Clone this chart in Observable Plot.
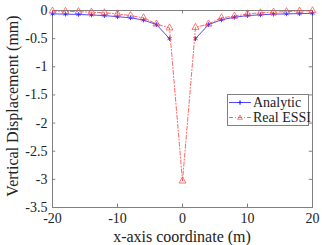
<!DOCTYPE html>
<html><head><meta charset="utf-8">
<script src="https://cdn.jsdelivr.net/npm/d3@7"></script>
<script src="https://cdn.jsdelivr.net/npm/@observablehq/plot@0.6"></script>
<style>
html body, html body *, #wrap svg text, #wrap svg tspan { font-family: 'Liberation Serif', 'Times New Roman', Tinos, serif !important; }
body{margin:0;background:#fff;}
#wrap{position:relative;width:322px;height:245px;}
#legend{position:absolute;left:227px;top:94px;width:80px;height:30px;border:1px solid #808080;background:#fff;color:#222;white-space:nowrap;z-index:2;}
#legend .row{position:absolute;left:0;height:15px;display:flex;align-items:center;font-size:14px;}
.lbl{position:absolute;font-size:16px;color:#222;white-space:nowrap;z-index:2;line-height:1;}
</style></head>
<body><div id="wrap">
<div id="legend">
 <div class="row" style="top:0px"><svg id="s0" width="24" height="15" style="margin-left:1px"></svg><span>Analytic</span></div>
 <div class="row" style="top:15px"><svg id="s1" width="24" height="15" style="margin-left:1px"></svg><span>Real ESSI</span></div>
</div>
<div class="lbl" id="xl" style="left:0;width:364px;text-align:center;top:229px;">x-axis coordinate (m)</div>
<div class="lbl" id="yl" style="left:13px;top:106px;transform:translate(-50%,-50%) rotate(-90deg);">Vertical Displacement (mm)</div>
</div>
<script>
const xs = [-20,-18,-16,-14,-12,-10,-8,-6,-4,-2,0,2,4,6,8,10,12,14,16,18,20];
const analytic = [-0.06,-0.065,-0.07,-0.08,-0.09,-0.11,-0.13,-0.17,-0.25,-0.5,null,-0.5,-0.25,-0.165,-0.12,-0.09,-0.077,-0.065,-0.06,-0.055,-0.05];
const realEssi = [-0.01,-0.015,-0.02,-0.03,-0.04,-0.06,-0.09,-0.13,-0.24,-0.31,-3.03,-0.3,-0.24,-0.13,-0.1,-0.06,-0.04,-0.03,-0.02,-0.01,-0.005];
const xTicks = [-20,-10,0,10,20];
const yTicks = [0,-0.5,-1,-1.5,-2,-2.5,-3,-3.5];
const seriesNames = ["Analytic","Real ESSI"];
const colors = ["#2020ff","#ff4040"];

const A = xs.map((x,i)=>({x, y: analytic[i]}));
const R = xs.map((x,i)=>({x, y: realEssi[i]}));
const grey = "#808080";
const FF = "Liberation Serif";

const chart = Plot.plot({
  width: 322, height: 245,
  marginLeft: 52, marginRight: 10, marginTop: 10, marginBottom: 38,
  style: {fontFamily: FF, fontSize: "14px", color: "#222", background: "#fff"},
  x: {domain: [-20, 20], ticks: xTicks},
  y: {domain: [-3.5, 0], ticks: yTicks},
  marks: [
    Plot.frame({stroke: grey}),
    Plot.ruleX(xTicks, {y1: -3.5, y2: -3.44, stroke: grey}),
    Plot.ruleX(xTicks, {y1: 0, y2: -0.06, stroke: grey}),
    Plot.ruleY(yTicks, {x1: -20, x2: -19.5, stroke: grey}),
    Plot.ruleY(yTicks, {x1: 20, x2: 19.5, stroke: grey}),
    Plot.axisX({ticks: xTicks, tickSize: 0, tickPadding: 6, label: null, tickFormat: d => String(d), fontSize: 14, fontFamily: FF}),
    Plot.axisY({ticks: yTicks, tickSize: 0, tickPadding: 5, label: null, tickFormat: d => String(d), fontSize: 14, fontFamily: FF}),
    Plot.line(A, {x: "x", y: "y", stroke: colors[0], strokeWidth: 0.8}),
    Plot.dot(A.filter(d => d.y != null), {x: "x", y: "y", symbol: "asterisk", r: 2.2, stroke: colors[0], strokeWidth: 0.8}),
    Plot.line(R, {x: "x", y: "y", stroke: colors[1], strokeWidth: 0.8, strokeDasharray: "4,2,1,2"}),
    Plot.dot(R, {x: "x", y: "y", symbol: "triangle", r: 2.6, stroke: colors[1], strokeWidth: 0.7, fill: "none"})
  ]
});
chart.style.position = "absolute"; chart.style.left = "0"; chart.style.top = "0";
const wrap = document.getElementById("wrap");
wrap.insertBefore(chart, wrap.firstChild);

seriesNames.forEach((name, i) => {
  const dash = i === 1 ? 'stroke-dasharray="4,2,1,2"' : "";
  const marker = i === 0
    ? `<path d="M11,7.5h-2.5M11,7.5h2.5M11,7.5v-2.5M11,7.5v2.5" stroke="${colors[0]}" stroke-width="0.8"/><circle cx="11" cy="7.5" r="1" fill="${colors[0]}"/>`
    : `<path d="M11,5 L13.4,9.3 L8.6,9.3 Z" stroke="${colors[1]}" stroke-width="0.7" fill="none"/>`;
  document.getElementById("s" + i).innerHTML = `<line x1="0" x2="22" y1="7.5" y2="7.5" stroke="${colors[i]}" stroke-width="0.8" ${dash}/>${marker}`;
});
</script>
</body></html>
